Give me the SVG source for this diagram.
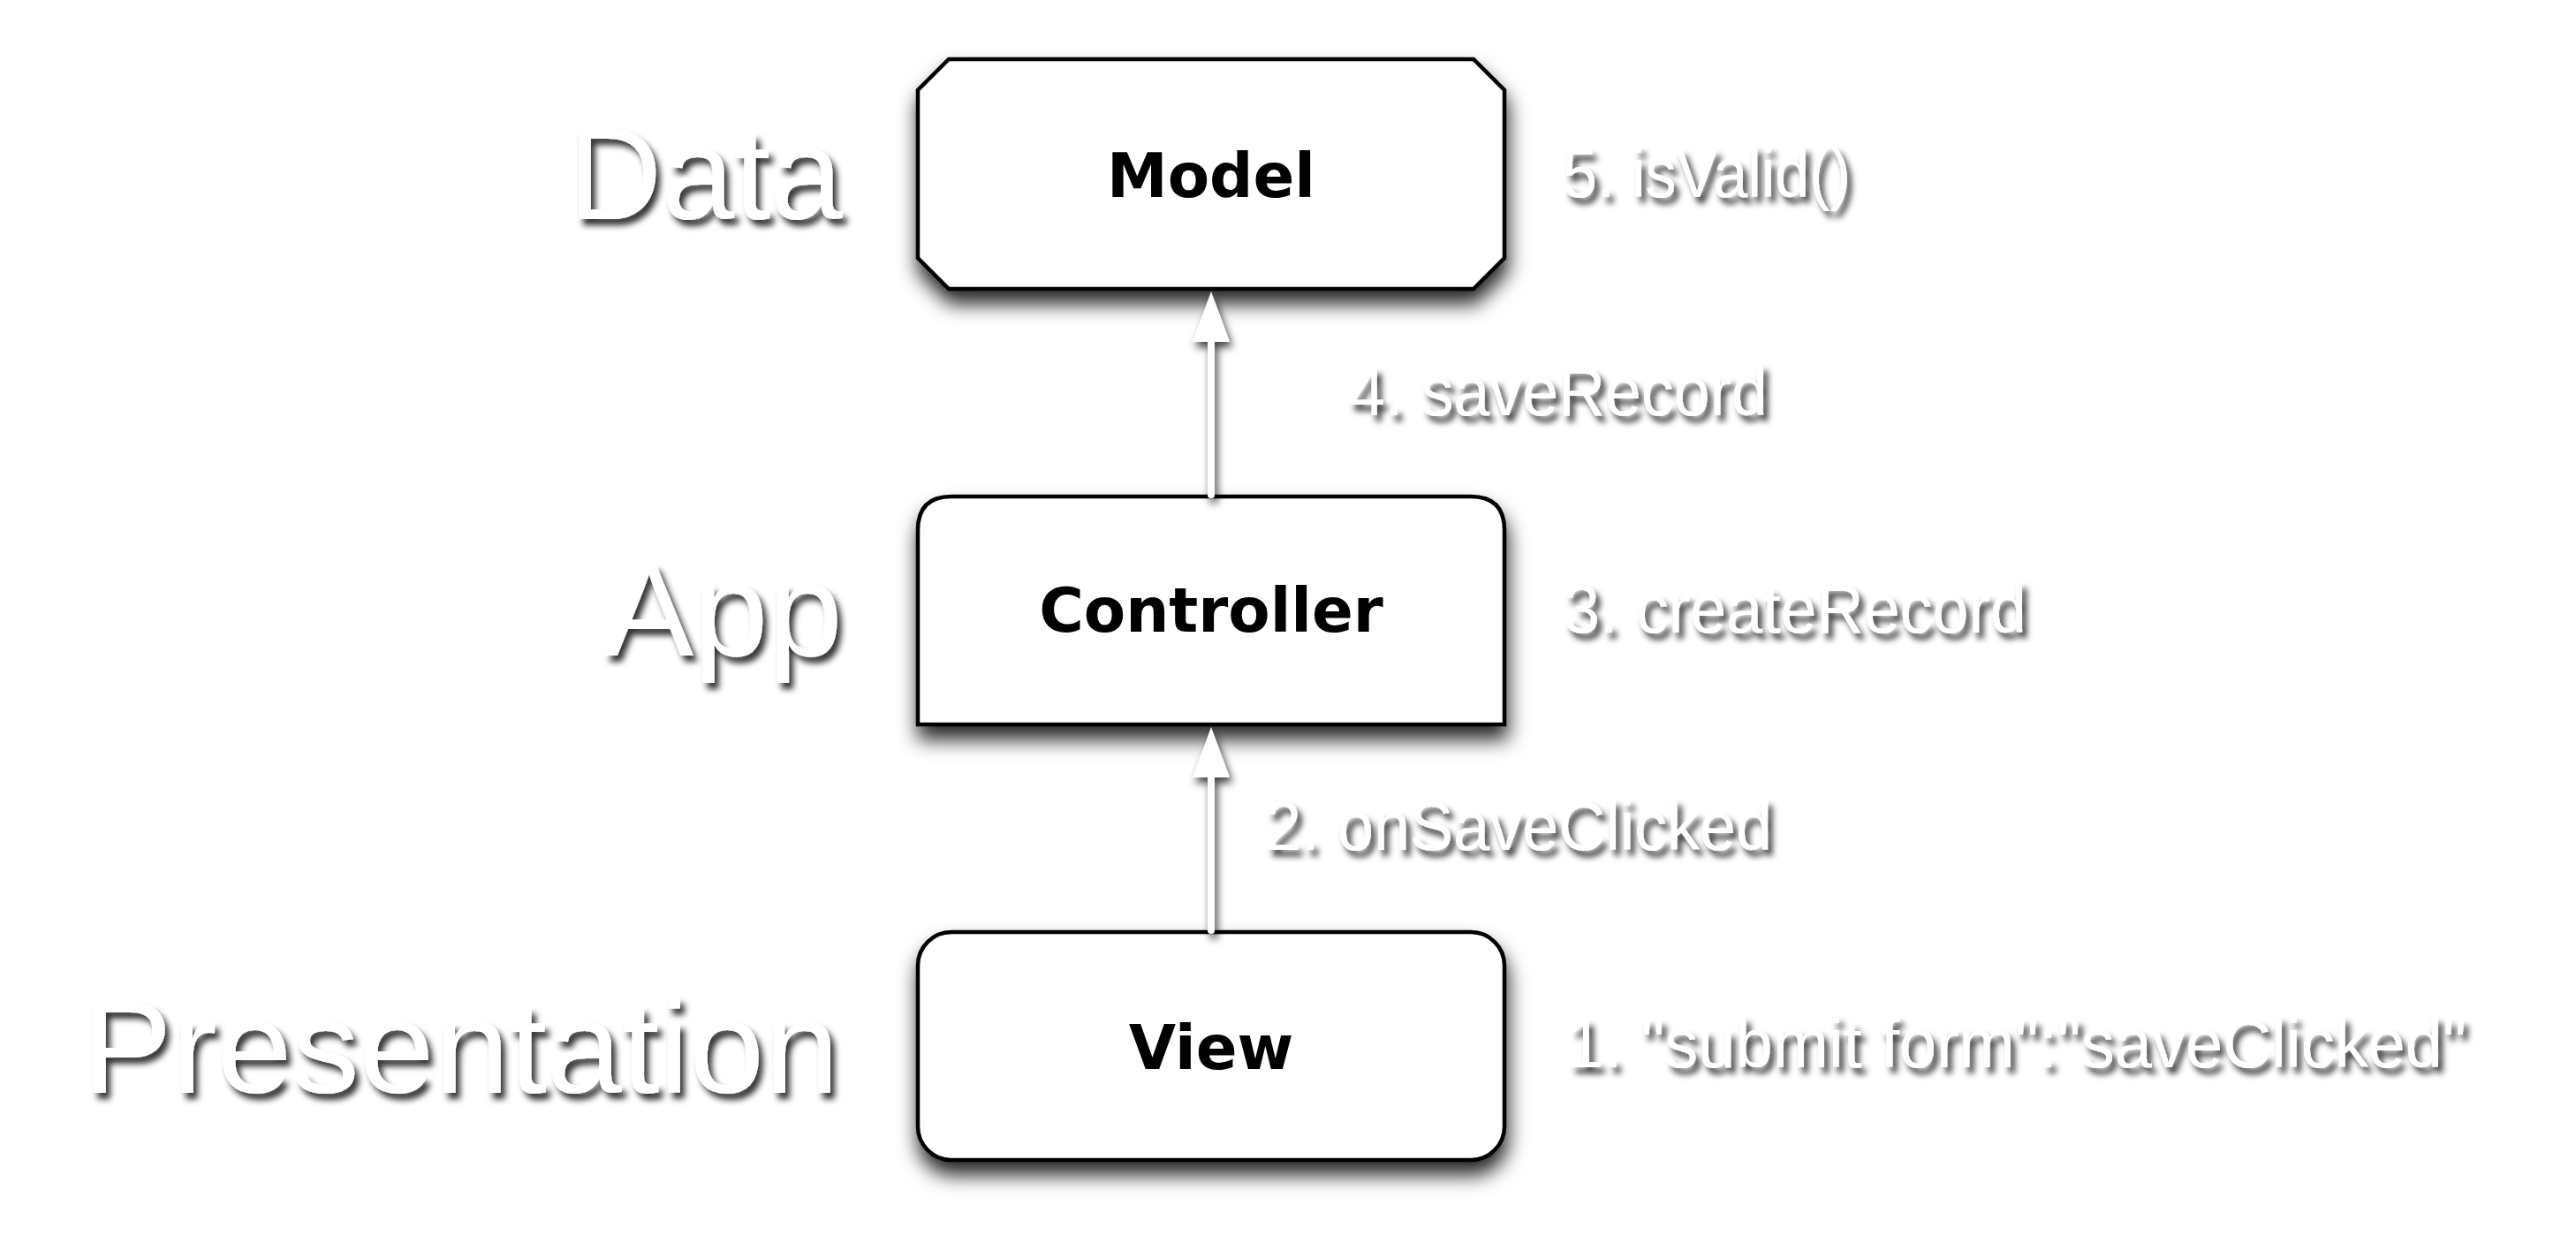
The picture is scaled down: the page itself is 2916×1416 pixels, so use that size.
<svg xmlns="http://www.w3.org/2000/svg" width="2916" height="1416" viewBox="0 0 2916 1416">
<defs>
<filter id="boxShadow" x="-10%" y="-20%" width="120%" height="160%">
<feDropShadow dx="2" dy="15" stdDeviation="11" flood-color="#000" flood-opacity="0.85"/>
</filter>
<filter id="textShadow" x="-10%" y="-30%" width="120%" height="170%">
<feDropShadow dx="5" dy="7" stdDeviation="3.5" flood-color="#000" flood-opacity="0.8"/>
</filter>
<filter id="arrowShadow" x="-200%" y="-20%" width="500%" height="140%">
<feDropShadow dx="3" dy="6" stdDeviation="5" flood-color="#000" flood-opacity="0.75"/>
</filter>
</defs>
<style>
.box{fill:#fff;stroke:#000;stroke-width:4.5;filter:url(#boxShadow)}
.nlabel{font-family:"DejaVu Sans",sans-serif;font-weight:bold;font-size:69px;fill:#000;text-anchor:middle}
.layer{font-family:"Liberation Sans",Arial,sans-serif;font-size:149px;fill:#fff;text-anchor:end;filter:url(#textShadow)}
.elabel{font-family:"Liberation Sans",Arial,sans-serif;font-size:77px;fill:#fff;filter:url(#textShadow)}
.shaft{stroke:#fff;stroke-width:8;stroke-linecap:round;fill:none}
.head{fill:#fff}
</style>
<rect width="2916" height="1416" fill="#fff"/>

<g id="layers">
<text class="layer" x="954" y="248" textLength="311" lengthAdjust="spacingAndGlyphs">Data</text>
<text class="layer" x="954" y="742" textLength="270" lengthAdjust="spacingAndGlyphs">App</text>
<text class="layer" x="950" y="1237" textLength="857" lengthAdjust="spacingAndGlyphs">Presentation</text>
</g>

<g id="model">
<path class="box" d="M1074,67 L1668,67 L1703,102 L1703,292 L1668,327 L1074,327 L1039,292 L1039,102 Z"/>
<text class="nlabel" x="1371" y="223">Model</text>
</g>

<g id="controller">
<path class="box" d="M1039,820 L1039,600 Q1039,562 1077,562 L1665,562 Q1703,562 1703,600 L1703,820 Z"/>
<text class="nlabel" x="1371" y="715">Controller</text>
</g>

<g id="view">
<rect class="box" x="1039" y="1055" width="664" height="258" rx="38" ry="38"/>
<text class="nlabel" x="1371" y="1210">View</text>
</g>

<g id="connectors">
<g filter="url(#arrowShadow)">
<line class="shaft" x1="1371" y1="1053" x2="1371" y2="875"/>
<polygon class="head" points="1371,823 1392,880 1350,880"/>
</g>
<g filter="url(#arrowShadow)">
<line class="shaft" x1="1371" y1="560" x2="1371" y2="382"/>
<polygon class="head" points="1371,330 1392,387 1350,387"/>
</g>
<text class="elabel" x="1769" y="223" textLength="326" lengthAdjust="spacingAndGlyphs">5. isValid()</text>
<text class="elabel" x="1527" y="470" textLength="474" lengthAdjust="spacingAndGlyphs">4. saveRecord</text>
<text class="elabel" x="1770" y="716" textLength="524" lengthAdjust="spacingAndGlyphs">3. createRecord</text>
<text class="elabel" x="1432" y="962" textLength="574" lengthAdjust="spacingAndGlyphs">2. onSaveClicked</text>
<text class="elabel" x="1773" y="1208" textLength="1019" lengthAdjust="spacingAndGlyphs">1. "submit form":"saveClicked"</text>
</g>
</svg>
